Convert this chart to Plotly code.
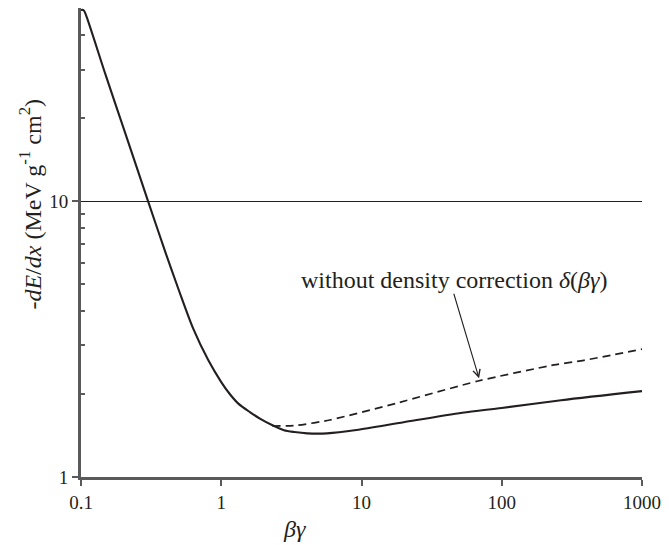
import numpy as np
import plotly.graph_objects as go

# ---- data ----
bg_solid = [0.1, 0.102, 0.105, 0.11, 0.15, 0.2, 0.301, 0.4, 0.5, 0.63, 0.809,
            1.0, 1.15, 1.318, 1.6, 1.9, 2.32, 2.8, 3.32, 4.1, 5.68, 9.2, 20, 52.3, 100, 265, 1000]
dedx_solid = [49.3, 49.6, 49.2, 46.5, 28.7, 18.6, 10.0, 6.53, 4.74, 3.46, 2.65,
              2.21, 2.0, 1.85, 1.72, 1.625, 1.54, 1.478, 1.456, 1.44, 1.44, 1.48, 1.58, 1.71, 1.78, 1.90, 2.05]

bg_nodelta = [2.32, 3.46, 5.95, 17.6, 67.8, 236, 385, 1000]
dedx_nodelta = [1.53, 1.54, 1.61, 1.85, 2.23, 2.55, 2.65, 2.91]

x_ticks = [0.1, 1, 10, 100, 1000]
x_ticktext = ["0.1", "1", "10", "100", "1000"]
y_ticks = [1, 10]
y_ticktext = ["1", "10"]

label_text = "without density correction <i>δ</i>(<i>βγ</i>)"
label_pos = (45.9, 5.18)
arrow_tail = (45.2, 4.68)
arrow_head = (68.9, 2.28)

FONT = "Liberation Serif"
INK = "#231f20"
AXIS = "#5a5a5a"

fig = go.Figure()
fig.add_trace(go.Scatter(x=bg_solid, y=dedx_solid, mode="lines",
                         line=dict(color=INK, width=2.1, shape="spline", smoothing=0.8),
                         showlegend=False, hoverinfo="skip"))
fig.add_trace(go.Scatter(x=bg_nodelta, y=dedx_nodelta, mode="lines",
                         line=dict(color=INK, width=1.7, dash="8px,5px", shape="spline", smoothing=0.6),
                         showlegend=False, hoverinfo="skip"))

fig.add_annotation(x=np.log10(label_pos[0]), y=np.log10(label_pos[1]), xref="x", yref="y",
                   text=label_text, showarrow=False,
                   font=dict(family=FONT, size=24, color=INK))
fig.add_annotation(x=np.log10(arrow_head[0]), y=np.log10(arrow_head[1]),
                   ax=np.log10(arrow_tail[0]), ay=np.log10(arrow_tail[1]),
                   xref="x", yref="y", axref="x", ayref="y", text="",
                   showarrow=True, arrowhead=5, arrowsize=1.3, arrowwidth=1.1, arrowcolor=INK)

fig.add_annotation(x=0.38, y=-0.11, xref="paper", yref="paper",
                   text="<i>βγ</i>", showarrow=False, yanchor="middle",
                   font=dict(family=FONT, size=24, color=INK))
fig.add_annotation(x=-0.09, y=0.582, xref="paper", yref="paper", textangle=-90,
                   text="-<i>dE</i>/<i>dx</i> (MeV g<sup>-1</sup> cm<sup>2</sup>)",
                   showarrow=False, xanchor="center", yanchor="middle",
                   font=dict(family=FONT, size=24, color=INK))

fig.update_xaxes(type="log", range=[-1, 3], tickvals=x_ticks, ticktext=x_ticktext,
                 ticks="outside", ticklen=6, tickwidth=2, tickcolor=AXIS,
                 showline=True, linecolor=AXIS, linewidth=3, showgrid=False, zeroline=False,
                 tickfont=dict(family=FONT, size=19, color=INK))
fig.update_yaxes(type="log", range=[0, np.log10(50.3)], tickvals=y_ticks, ticktext=y_ticktext,
                 ticks="outside", ticklen=6, tickwidth=2, tickcolor=AXIS,
                 showline=True, linecolor=AXIS, linewidth=3,
                 showgrid=True, gridcolor=INK, gridwidth=1, zeroline=False,
                 minor=dict(tickvals=[2, 3, 4, 5, 6, 7, 8, 9, 20, 30, 40], ticks="inside",
                            ticklen=4, tickwidth=1.5, tickcolor=AXIS, showgrid=False),
                 tickfont=dict(family=FONT, size=19, color=INK))

fig.update_layout(width=669, height=545, margin=dict(l=81, r=20, t=8, b=68),
                  plot_bgcolor="white", paper_bgcolor="white",
                  font=dict(family=FONT, color=INK))

fig.write_html("out.html")
